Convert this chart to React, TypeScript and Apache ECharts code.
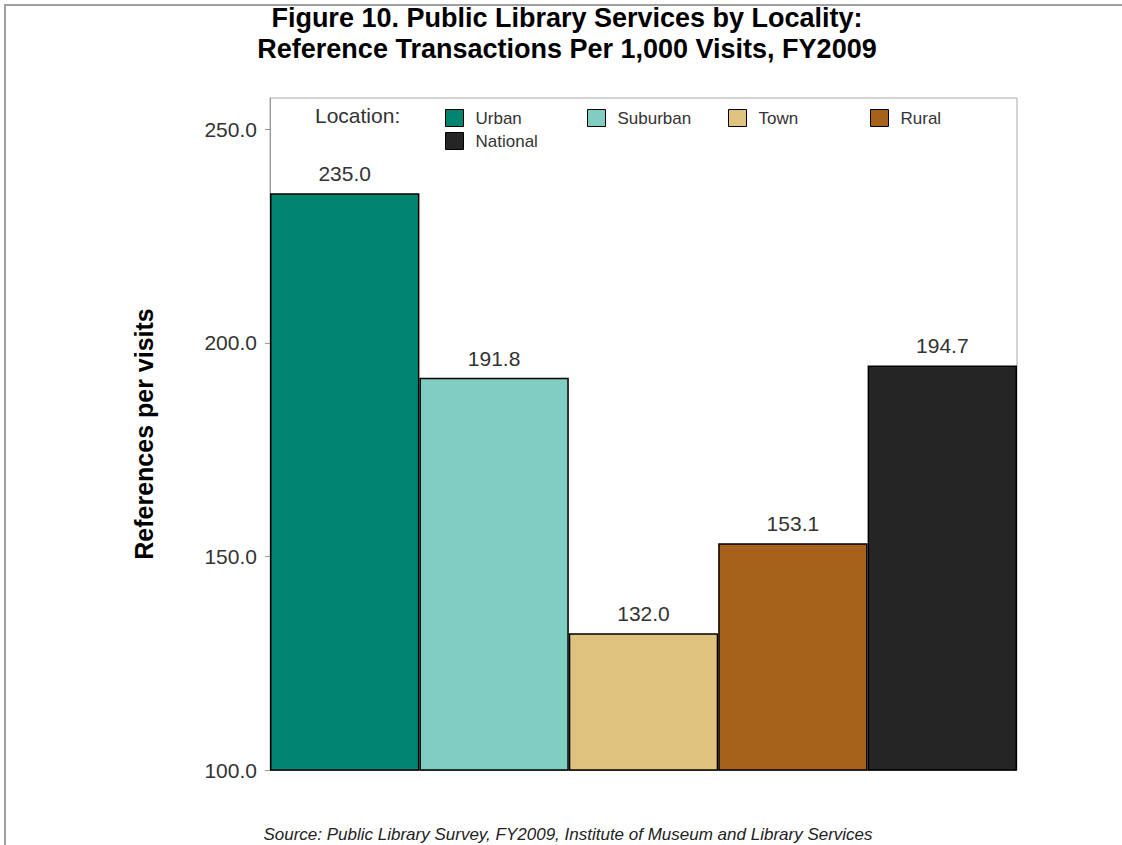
import React, { useEffect, useRef } from "react";
import * as echarts from "echarts";

const categories = ["Urban", "Suburban", "Town", "Rural", "National"];
const values = [235.0, 191.8, 132.0, 153.1, 194.7];
const colors = ["#018571", "#80cdc1", "#dfc27d", "#a6611a", "#252525"];
const yTicks = [100, 150, 200, 250];

const FONT = "'Liberation Sans', Arial, sans-serif";

export default function App() {
  const ref = useRef<HTMLDivElement>(null);

  useEffect(() => {
    if (!ref.current) return;
    const chart = echarts.init(ref.current, null, { renderer: "svg" });

    const legendPos = [
      { left: 445, top: 109 },
      { left: 587, top: 109 },
      { left: 728, top: 109 },
      { left: 870, top: 109 },
      { left: 445, top: 132 },
    ];

    const option: any = {
      animation: false,
      backgroundColor: "#ffffff",
      title: {
        text: "Figure 10. Public Library Services by Locality:\nReference Transactions Per 1,000 Visits, FY2009",
        left: 567,
        textAlign: "center",
        top: 2,
        padding: 0,
        textStyle: {
          fontFamily: FONT,
          fontSize: 27,
          fontWeight: "bold",
          color: "#000",
          lineHeight: 31,
        },
      },
      legend: categories.map((c, i) => ({
        data: [c],
        left: legendPos[i].left,
        top: legendPos[i].top,
        padding: 0,
        itemWidth: 18,
        itemHeight: 17,
        icon: "rect",
        selectedMode: false,
        itemStyle: { borderColor: "#000", borderWidth: 1 },
        textStyle: {
          fontFamily: FONT,
          fontSize: 17,
          color: "#333",
          padding: [0, 0, 0, 7],
        },
      })),
      grid: {
        left: 270,
        right: 105,
        top: 98,
        bottom: 75,
        show: true,
        borderColor: "#aaaaaa",
        borderWidth: 1,
        containLabel: false,
      },
      xAxis: {
        type: "category",
        data: [""],
        axisLine: { show: true, lineStyle: { color: "#999" } },
        axisTick: { show: false },
        axisLabel: { show: false },
        splitLine: { show: false },
      },
      yAxis: {
        type: "value",
        min: 100,
        max: 257.3,
        interval: 50,
        name: "References per visits",
        nameLocation: "middle",
        nameGap: 114,
        nameTextStyle: {
          fontFamily: FONT,
          fontSize: 25,
          fontWeight: "bold",
          color: "#000",
        },
        axisLine: { show: true, lineStyle: { color: "#999" } },
        axisTick: {
          show: true,
          length: 5,
          customValues: yTicks,
          lineStyle: { color: "#999" },
        },
        axisLabel: {
          customValues: yTicks,
          formatter: (v: number) => v.toFixed(1),
          fontFamily: FONT,
          fontSize: 21,
          color: "#333",
          margin: 13,
        },
        splitLine: { show: false },
      },
      series: categories.map((c, i) => ({
        name: c,
        type: "bar",
        data: [values[i]],
        barGap: "0%",
        barCategoryGap: "0%",
        itemStyle: { color: colors[i], borderColor: "#000", borderWidth: 1.5 },
        label: {
          show: true,
          position: "top",
          distance: 9,
          formatter: (p: any) => Number(p.value).toFixed(1),
          fontFamily: FONT,
          fontSize: 21,
          color: "#333",
        },
      })),
      graphic: [
        {
          type: "rect",
          shape: { x: 5, y: 5, width: 1300, height: 1000 },
          style: { fill: "none", stroke: "#a0a0a0", lineWidth: 2 },
          silent: true,
        },
        {
          type: "text",
          left: 315,
          top: 105,
          style: {
            text: "Location:",
            fontFamily: FONT,
            fontSize: 21,
            fill: "#333",
          },
        },
        {
          type: "text",
          x: 568,
          y: 834,
          style: {
            text: "Source: Public Library Survey, FY2009, Institute of Museum and Library Services",
            fontFamily: FONT,
            fontSize: 17,
            fontStyle: "italic",
            fill: "#222",
            textAlign: "center",
            textVerticalAlign: "middle",
          },
        },
      ],
    };

    chart.setOption(option);
    return () => chart.dispose();
  }, []);

  return (
    <div
      ref={ref}
      style={{ position: "fixed", left: 0, top: 0, width: 1122, height: 845 }}
    />
  );
}
